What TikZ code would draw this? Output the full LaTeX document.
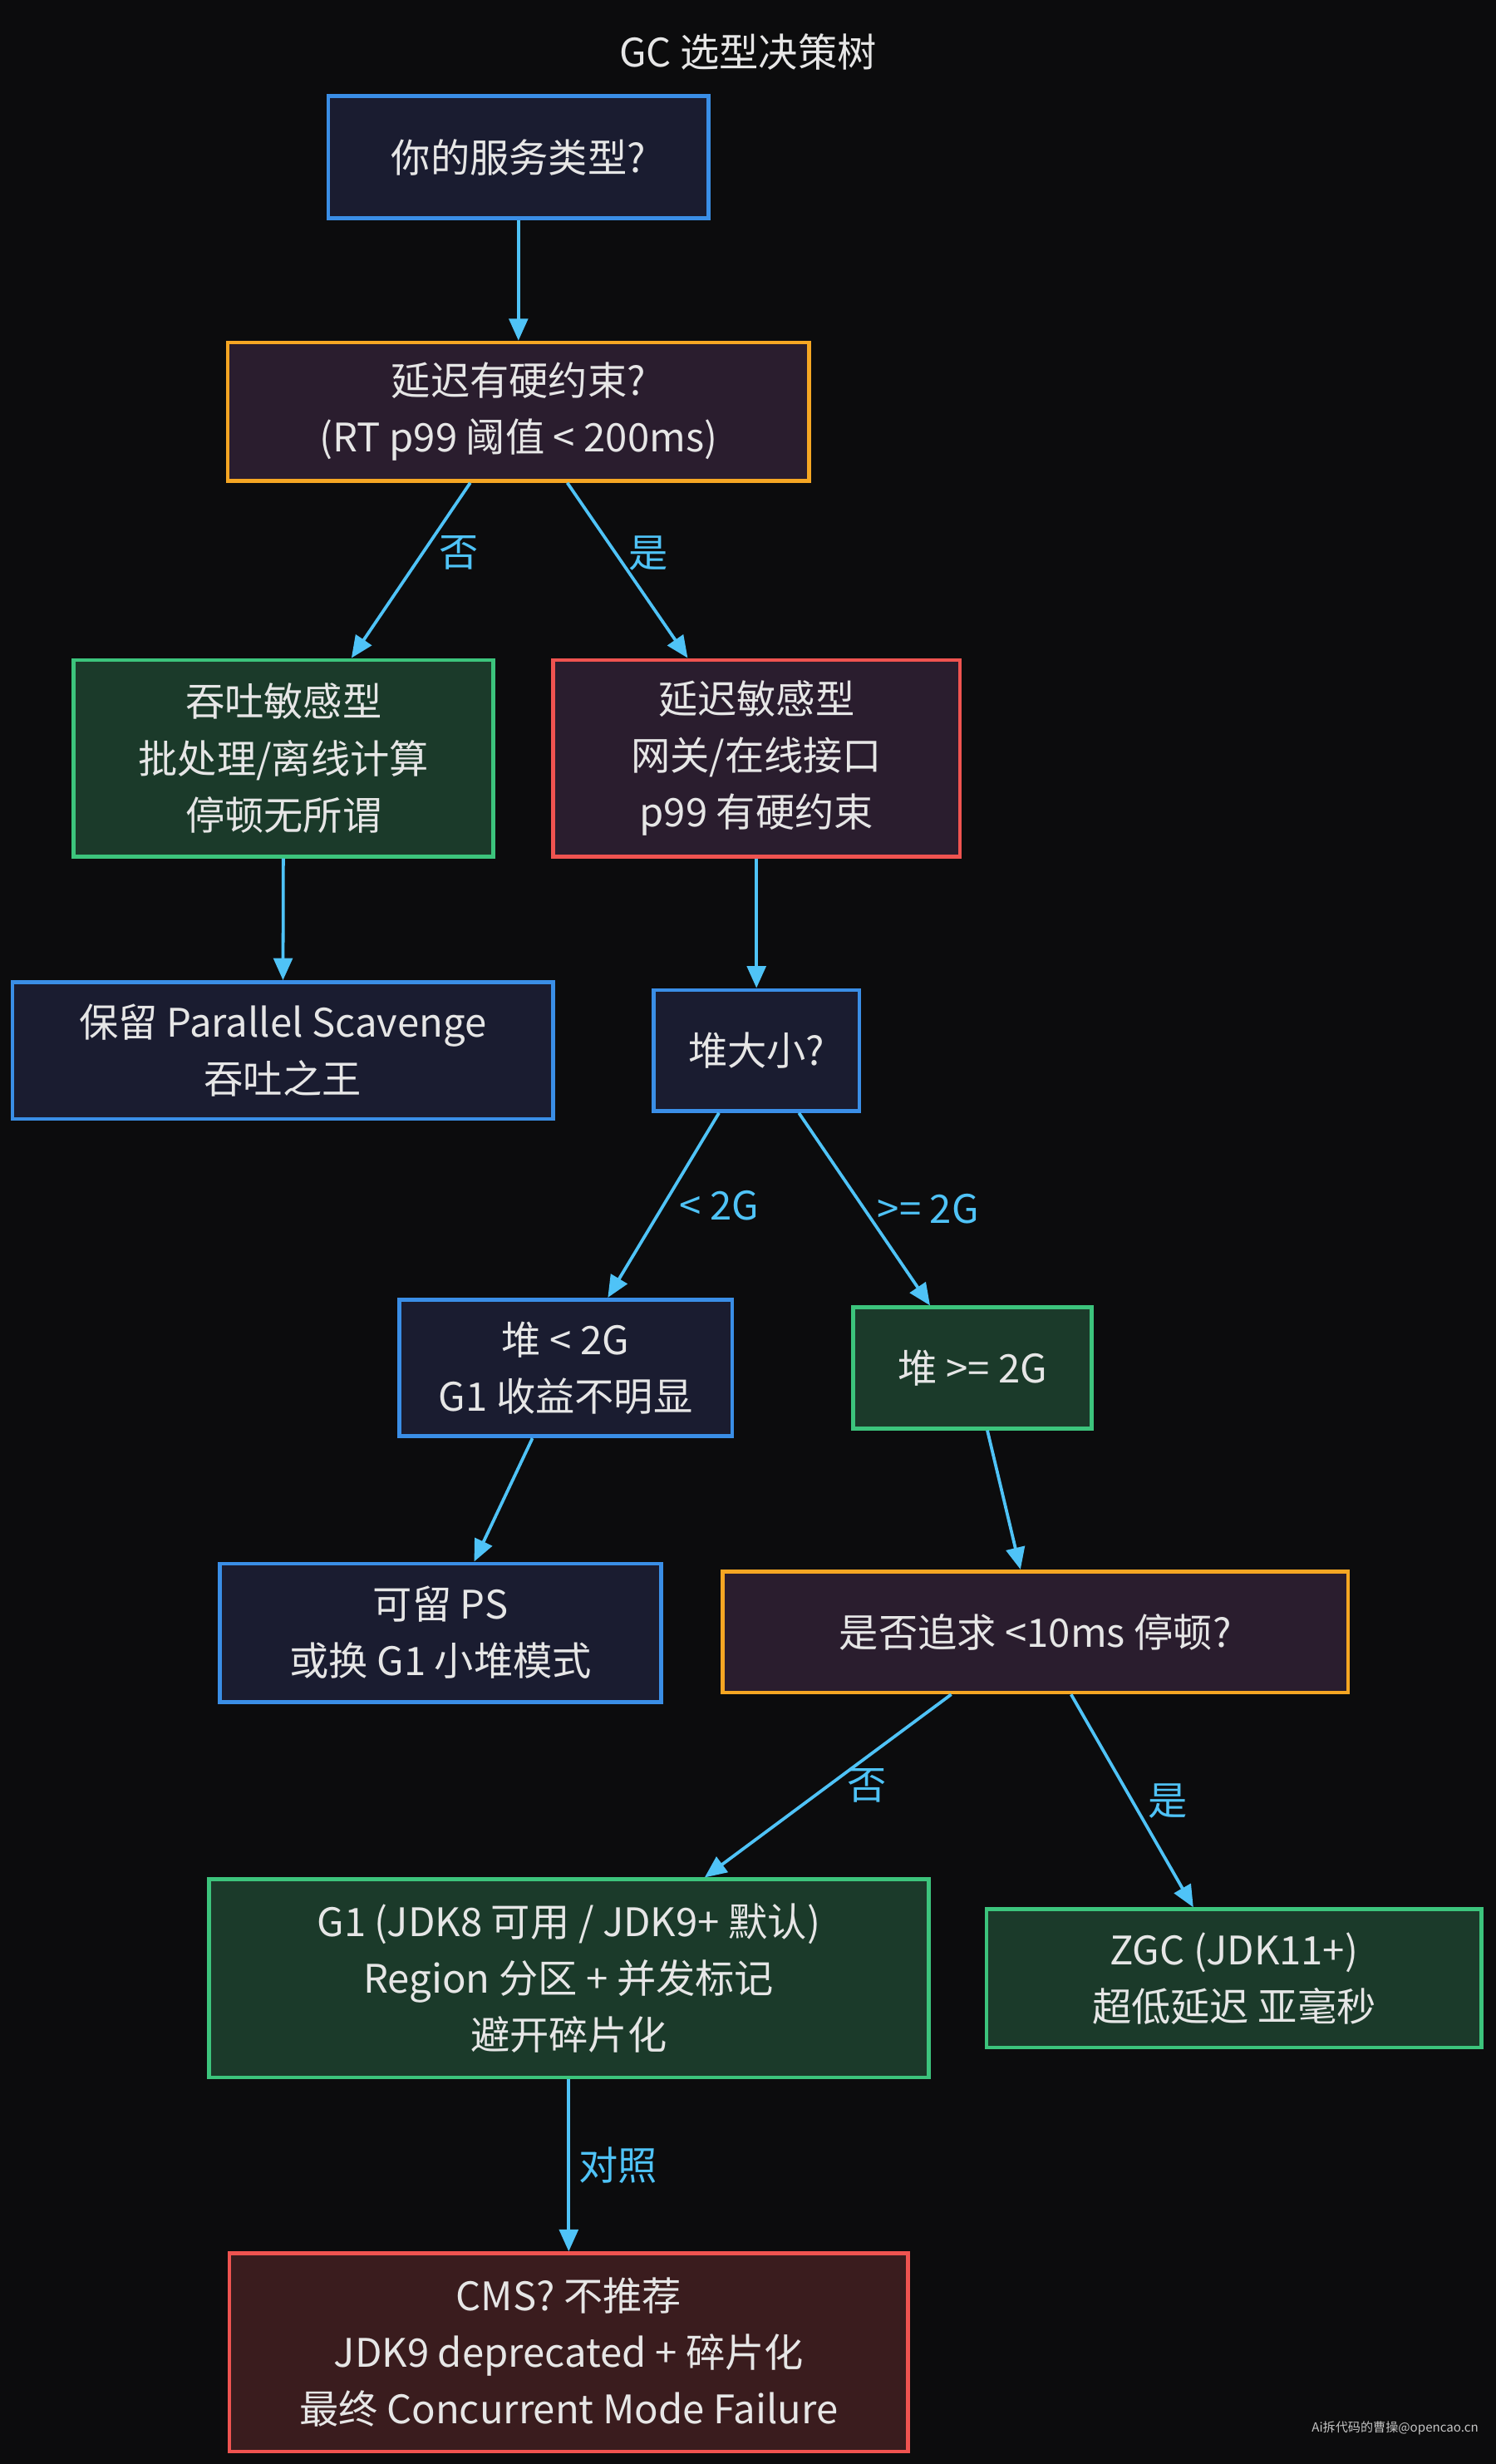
\documentclass[tikz,border=0pt]{standalone}
\usepackage{fontspec}
\setmainfont{Noto Sans CJK SC}
\usetikzlibrary{arrows.meta}
\definecolor{bg}{HTML}{0C0C0D}
\definecolor{txt}{HTML}{E6E6E6}
\definecolor{edge}{HTML}{4FC3F7}
\definecolor{cblue}{HTML}{3A8EE6}
\definecolor{corange}{HTML}{F5A623}
\definecolor{cgreen}{HTML}{3CC47C}
\definecolor{cred}{HTML}{EF5350}
\definecolor{fblue}{HTML}{1A1C30}
\definecolor{fpurp}{HTML}{2A1D2E}
\definecolor{fgreen}{HTML}{1B3A2A}
\definecolor{fred}{HTML}{3A1C1E}
\tikzset{
 box/.style={draw, line width=2.5pt, text=txt, align=center, inner sep=0pt,
   font=\fontsize{25}{36}\selectfont},
 bl/.style={box, draw=cblue, fill=fblue},
 or/.style={box, draw=corange, fill=fpurp},
 gr/.style={box, draw=cgreen, fill=fgreen},
 rd/.style={box, draw=cred, fill=fpurp},
 rd2/.style={box, draw=cred, fill=fred},
 ar/.style={draw=edge, line width=2pt, -{Triangle[length=14pt,width=12pt]}},
 lab/.style={text=edge, font=\fontsize{25}{30}\selectfont},
}
\begin{document}
\begin{tikzpicture}[x=1pt,y=-1pt]
\fill[bg] (0,0) rectangle (952,1568);
\useasboundingbox (0,0) rectangle (952,1568);
\node[text=txt, font=\fontsize{25}{30}\selectfont] (title) at (476,33) {GC 选型决策树};
\node[bl, minimum width=242pt, minimum height=78pt] (n1) at (330,100) {你的服务类型?};
\node[or, minimum width=370pt, minimum height=88pt] (n2) at (330,262) {延迟有硬约束?\\(RT p99 阈值 < 200ms)};
\node[gr, minimum width=267pt, minimum height=125pt] (n3) at (180.5,482.5) {吞吐敏感型\\批处理/离线计算\\停顿无所谓};
\node[rd, minimum width=259pt, minimum height=125pt] (n4) at (481.5,482.5) {延迟敏感型\\网关/在线接口\\p99 有硬约束};
\node[bl, minimum width=344pt, minimum height=87pt] (n5) at (180,668.5) {保留 Parallel Scavenge\\吞吐之王};
\node[bl, minimum width=131pt, minimum height=77pt] (n6) at (481.5,668.5) {堆大小?};
\node[bl, minimum width=212pt, minimum height=87pt] (n7) at (360,870.5) {堆 < 2G\\G1 收益不明显};
\node[gr, minimum width=152pt, minimum height=77pt] (n8) at (619,870.5) {堆 >= 2G};
\node[bl, minimum width=281pt, minimum height=88pt] (n9) at (280.5,1039) {可留 PS\\或换 G1 小堆模式};
\node[or, minimum width=398pt, minimum height=77pt] (n10) at (659,1038.5) {是否追求 <10ms 停顿?};
\node[gr, minimum width=458pt, minimum height=126pt] (n11) at (362,1259) {G1 (JDK8 可用 / JDK9+ 默认)\\Region 分区 + 并发标记\\避开碎片化};
\node[gr, minimum width=315pt, minimum height=88pt] (n12) at (785.5,1259) {ZGC (JDK11+)\\超低延迟 亚毫秒};
\node[rd2, minimum width=432pt, minimum height=126pt] (n13) at (362,1497) {CMS? 不推荐\\JDK9 deprecated + 碎片化\\最终 Concurrent Mode Failure};
\draw[ar] (n1) -- (n2);
\draw[ar] (n2) -- node[lab, pos=0.4, right=6pt] {否} (n3);
\draw[ar] (n2) -- node[lab, pos=0.4, right=4pt] {是} (n4);
\draw[ar] (n3) -- (n5);
\draw[ar] (n4) -- (n6);
\draw[ar] (n6) -- node[lab, pos=0.5, right=6pt] {< 2G} (n7);
\draw[ar] (n6) -- node[lab, pos=0.5, right=4pt] {>= 2G} (n8);
\draw[ar] (n7) -- (n9);
\draw[ar] (n8) -- (n10);
\draw[ar] (n10) -- node[lab, pos=0.5, right=8pt] {否} (n11);
\draw[ar] (n10) -- node[lab, pos=0.5, right=6pt] {是} (n12);
\draw[ar] (n11) -- node[lab, pos=0.5, right=2pt] {对照} (n13);
\node[text=txt!85!black, font=\fontsize{8}{10}\selectfont] (wm) at (888,1545) {Ai拆代码的曹操@opencao.cn};
\end{tikzpicture}
\end{document}
